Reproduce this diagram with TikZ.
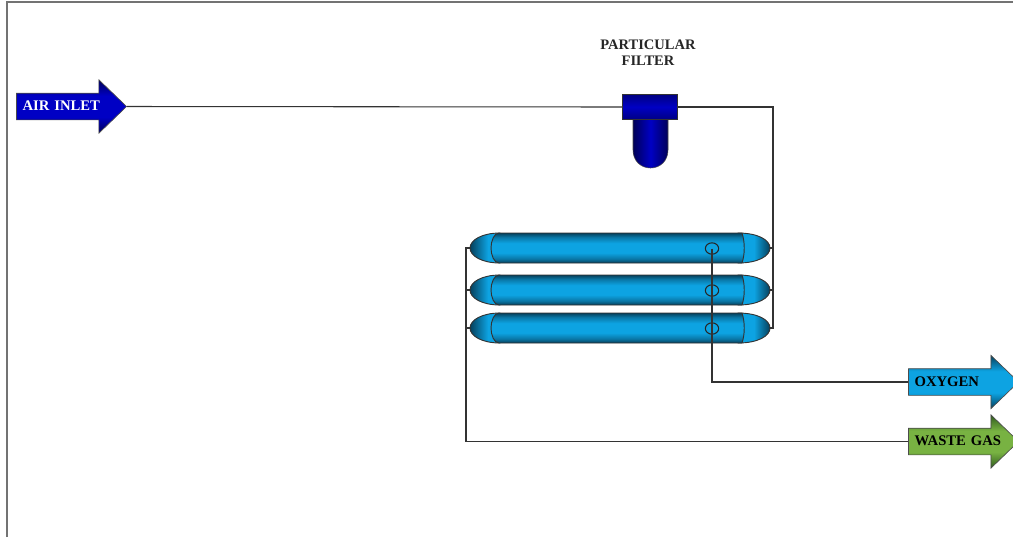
\documentclass[tikz,border=0pt]{standalone}
\usepackage{fontspec}
\setmainfont{Liberation Serif}
\usetikzlibrary{shapes.arrows, shapes.geometric}
\definecolor{navydark}{HTML}{000058}
\definecolor{navymid}{HTML}{0000C4}
\definecolor{tubedark}{HTML}{05405C}
\definecolor{tubemid}{HTML}{0DA3E2}
\definecolor{leafdark}{HTML}{2F5A1E}
\definecolor{leafmid}{HTML}{78B242}
\pgfdeclareverticalshading{navyshade}{100bp}{color(0bp)=(navydark); color(25bp)=(navydark); color(40bp)=(navymid); color(60bp)=(navymid); color(75bp)=(navydark); color(100bp)=(navydark)}
\pgfdeclareverticalshading{oxyshade}{100bp}{color(0bp)=(tubedark); color(25bp)=(tubedark); color(40bp)=(tubemid); color(60bp)=(tubemid); color(75bp)=(tubedark); color(100bp)=(tubedark)}
\pgfdeclareverticalshading{leafshade}{100bp}{color(0bp)=(leafdark); color(25bp)=(leafdark); color(40bp)=(leafmid); color(60bp)=(leafmid); color(75bp)=(leafdark); color(100bp)=(leafdark)}
\pgfdeclareverticalshading{tubeshade}{100bp}{color(0bp)=(tubedark); color(25bp)=(tubedark); color(32bp)=(tubedark!45!tubemid); color(42bp)=(tubemid); color(58bp)=(tubemid); color(68bp)=(tubedark!45!tubemid); color(75bp)=(tubedark); color(100bp)=(tubedark)}
\pgfdeclarehorizontalshading{capleft}{100bp}{color(0bp)=(tubedark); color(25bp)=(tubedark); color(55bp)=(tubemid); color(100bp)=(tubemid)}
\pgfdeclarehorizontalshading{capright}{100bp}{color(0bp)=(tubemid); color(50bp)=(tubemid); color(75bp)=(tubedark); color(100bp)=(tubedark)}
\tikzset{
  pipe/.style={draw=black!80, line width=0.8pt},
  flowarrow/.style={single arrow, draw=black!70, line width=0.5pt, inner sep=0pt,
    anchor=tip, minimum height=82.5pt, single arrow head extend=10pt,
    single arrow tip angle=88, text width=63pt, align=left, text height=13pt, text depth=6.5pt,
    font=\bfseries\fontsize{11}{11}\selectfont},
  airflow/.style={flowarrow, shading=navyshade, text=white},
  oxyflow/.style={flowarrow, shading=oxyshade},
  wasteflow/.style={flowarrow, shading=leafshade},
  tubeline/.style={draw=black!80, line width=0.7pt},
  port/.style={ellipse, draw=black!85, line width=0.8pt, inner sep=0pt, minimum width=10pt, minimum height=8.5pt},
}
\begin{document}
\begin{tikzpicture}[x=0.75pt, y=-0.75pt]
  \useasboundingbox (0,0) rectangle (1013,537);
  \draw[black!55, line width=1pt] (7,537) -- (7,2) -- (1013,2);

  \node[airflow] (air) at (127,106.5) {AIR~INLET};
  \node[oxyflow] (oxygen) at (1019,382) {OXYGEN};
  \node[wasteflow] (waste) at (1019,441.5) {\hbox{WASTE GAS}};

  \shade[left color=navydark, right color=navydark, middle color=navymid, draw=black!70, line width=0.4pt]
    (633,118) -- (668,118) -- (668,150) .. controls (668,161) and (660,168) .. (650.5,168)
    .. controls (641,168) and (633,161) .. (633,150) -- cycle;
  \node[draw=black!80, line width=0.5pt, minimum width=41.5pt, minimum height=18.5pt, inner sep=0pt,
    top color=navydark!60!navymid, bottom color=navydark!60!navymid, middle color=navymid] (filter) at (650,107) {};
  \node[font=\bfseries\fontsize{10.9}{12}\selectfont, align=center, text=black!85] (filterlabel) at (648,53) {PARTICULAR\\FILTER};

  \foreach \n/\y in {1/248, 2/290, 3/328} {
    \begin{scope}[shift={(0,\y)}]
      \shade[shading=capleft, tubeline]
        (500,-15) .. controls (482,-15) and (470,-8) .. (470,0)
        .. controls (470,8) and (482,15) .. (500,15) -- cycle;
      \shade[shading=capright, tubeline]
        (738,-15) .. controls (758,-15) and (770,-8) .. (770,0)
        .. controls (770,8) and (758,15) .. (738,15) -- cycle;
      \shade[shading=tubeshade, tubeline]
        (499,-15) -- (742,-15) .. controls (745,-6) and (745,6) .. (742,15) -- (499,15)
        .. controls (494,15) and (491,7) .. (491,0) .. controls (491,-7) and (494,-15) .. (499,-15) -- cycle;
      \coordinate (tube\n-L) at (470,0);
      \coordinate (tube\n-R) at (770,0);
      \node[port] (port\n) at (712,0.5) {};
    \end{scope}
  }

  \coordinate (rightbus) at (773,328);
  \coordinate (leftbus) at (466,441.5);
  \draw[pipe] (air.tip) -- (filter.west);
  \draw[pipe] (filter.east) -| (rightbus) -- (tube3-R);
  \draw[pipe] (tube1-R) -- (tube1-R -| rightbus);
  \draw[pipe] (tube2-R) -- (tube2-R -| rightbus);
  \draw[pipe] (tube1-L) -| (leftbus) -- (waste.tail);
  \draw[pipe] (tube2-L) -- (tube2-L -| leftbus);
  \draw[pipe] (tube3-L) -- (tube3-L -| leftbus);
  \draw[pipe] (port1.center) |- (oxygen.tail);
\end{tikzpicture}
\end{document}
